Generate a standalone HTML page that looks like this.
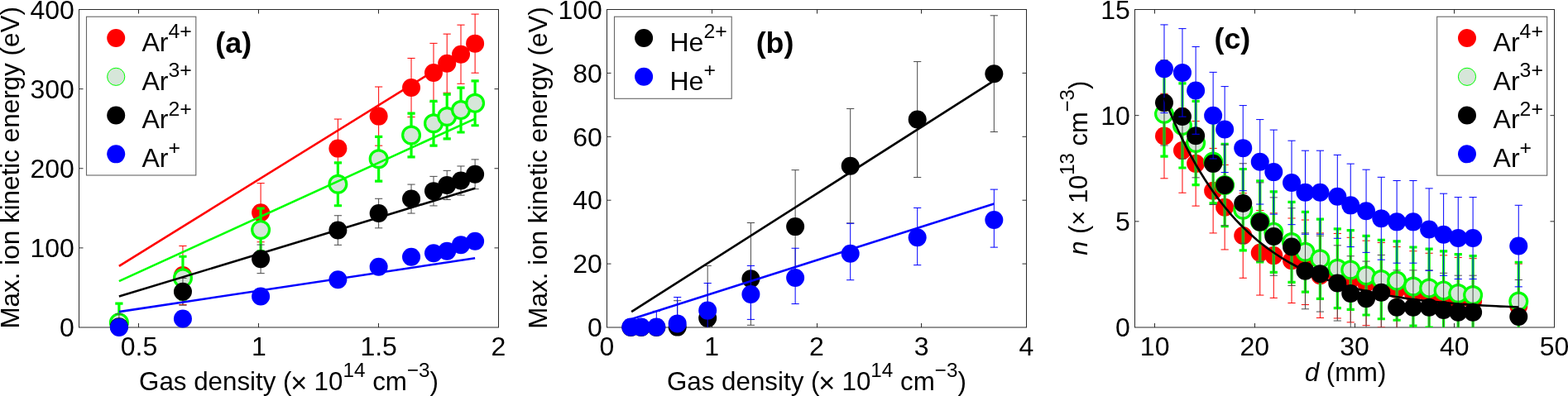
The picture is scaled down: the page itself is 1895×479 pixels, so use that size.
<!DOCTYPE html>
<html><head><meta charset="utf-8"><title>Figure</title>
<style>html,body{margin:0;padding:0;background:#fff;overflow:hidden}svg{display:block}</style>
</head><body>
<svg width="1895" height="479" viewBox="0 0 1895 479" font-family='"Liberation Sans", Arial, Helvetica, sans-serif' fill="#000">
<defs><clipPath id="clipA"><rect x="95.5" y="11.5" width="507" height="384.5"/></clipPath><clipPath id="clipB"><rect x="733.5" y="11.5" width="507" height="384.5"/></clipPath><clipPath id="clipC"><rect x="1371.5" y="11.5" width="507" height="384.5"/></clipPath></defs>
<rect width="100%" height="100%" fill="#fff"/>
<rect x="95.5" y="11.5" width="507" height="384.5" fill="none" stroke="#2b2b2b" stroke-width="1"/>
<path d="M167.5 396v-5M167.5 11.5v5M312.5 396v-5M312.5 11.5v5M457.5 396v-5M457.5 11.5v5M95.5 299.88h5M602.5 299.88h-5M95.5 203.75h5M602.5 203.75h-5M95.5 107.62h5M602.5 107.62h-5" stroke="#2b2b2b" stroke-width="1" fill="none"/>
<path d="M220.95 368.6V297.47M216.35 368.6h9.2M216.35 297.47h9.2" stroke="#ff0000" stroke-width="1.0" fill="none" clip-path="url(#clipA)"/>
<circle cx="220.95" cy="333.04" r="11" fill="#ff0000"/>
<path d="M315.1 292.76V221.63M310.5 292.76h9.2M310.5 221.63h9.2" stroke="#ff0000" stroke-width="1.0" fill="none" clip-path="url(#clipA)"/>
<circle cx="315.1" cy="257.2" r="11" fill="#ff0000"/>
<path d="M408.39 215.19V144.06M403.79 215.19h9.2M403.79 144.06h9.2" stroke="#ff0000" stroke-width="1.0" fill="none" clip-path="url(#clipA)"/>
<circle cx="408.39" cy="179.62" r="11" fill="#ff0000"/>
<path d="M457.64 176.16V105.03M453.04 176.16h9.2M453.04 105.03h9.2" stroke="#ff0000" stroke-width="1.0" fill="none" clip-path="url(#clipA)"/>
<circle cx="457.64" cy="140.6" r="11" fill="#ff0000"/>
<path d="M497.04 141.56V70.42M492.44 141.56h9.2M492.44 70.42h9.2" stroke="#ff0000" stroke-width="1.0" fill="none" clip-path="url(#clipA)"/>
<circle cx="497.04" cy="105.99" r="11" fill="#ff0000"/>
<path d="M523.99 123.49V52.35M519.39 123.49h9.2M519.39 52.35h9.2" stroke="#ff0000" stroke-width="1.0" fill="none" clip-path="url(#clipA)"/>
<circle cx="523.99" cy="87.92" r="11" fill="#ff0000"/>
<path d="M540.21 112.24V41.11M535.61 112.24h9.2M535.61 41.11h9.2" stroke="#ff0000" stroke-width="1.0" fill="none" clip-path="url(#clipA)"/>
<circle cx="540.21" cy="76.67" r="11" fill="#ff0000"/>
<path d="M557.01 101.28V30.15M552.41 101.28h9.2M552.41 30.15h9.2" stroke="#ff0000" stroke-width="1.0" fill="none" clip-path="url(#clipA)"/>
<circle cx="557.01" cy="65.71" r="11" fill="#ff0000"/>
<path d="M574.11 88.21V17.08M569.51 88.21h9.2M569.51 17.08h9.2" stroke="#ff0000" stroke-width="1.0" fill="none" clip-path="url(#clipA)"/>
<circle cx="574.11" cy="52.64" r="11" fill="#ff0000"/>
<path d="M143.88 413.21V367.07M139.28 413.21h9.2M139.28 367.07h9.2" stroke="#00ff00" stroke-width="3.2" fill="none" clip-path="url(#clipA)"/>
<circle cx="143.88" cy="390.14" r="10.4" fill="#d6e6d9" stroke="#00ff00" stroke-width="3.2"/>
<path d="M220.95 362.16V310.26M216.35 362.16h9.2M216.35 310.26h9.2" stroke="#00ff00" stroke-width="3.2" fill="none" clip-path="url(#clipA)"/>
<circle cx="220.95" cy="336.21" r="10.4" fill="#d6e6d9" stroke="#00ff00" stroke-width="3.2"/>
<path d="M315.1 303.91V252M310.5 303.91h9.2M310.5 252h9.2" stroke="#00ff00" stroke-width="3.2" fill="none" clip-path="url(#clipA)"/>
<circle cx="315.1" cy="277.96" r="10.4" fill="#d6e6d9" stroke="#00ff00" stroke-width="3.2"/>
<path d="M408.39 248.74V196.83M403.79 248.74h9.2M403.79 196.83h9.2" stroke="#00ff00" stroke-width="3.2" fill="none" clip-path="url(#clipA)"/>
<circle cx="408.39" cy="222.78" r="10.4" fill="#d6e6d9" stroke="#00ff00" stroke-width="3.2"/>
<path d="M457.64 219.13V165.3M453.04 219.13h9.2M453.04 165.3h9.2" stroke="#00ff00" stroke-width="3.2" fill="none" clip-path="url(#clipA)"/>
<circle cx="457.64" cy="192.22" r="10.4" fill="#d6e6d9" stroke="#00ff00" stroke-width="3.2"/>
<path d="M497.04 189.91V137.04M492.44 189.91h9.2M492.44 137.04h9.2" stroke="#00ff00" stroke-width="3.2" fill="none" clip-path="url(#clipA)"/>
<circle cx="497.04" cy="163.47" r="10.4" fill="#d6e6d9" stroke="#00ff00" stroke-width="3.2"/>
<path d="M523.99 176.16V122.33M519.39 176.16h9.2M519.39 122.33h9.2" stroke="#00ff00" stroke-width="3.2" fill="none" clip-path="url(#clipA)"/>
<circle cx="523.99" cy="149.25" r="10.4" fill="#d6e6d9" stroke="#00ff00" stroke-width="3.2"/>
<path d="M540.21 167.9V114.07M535.61 167.9h9.2M535.61 114.07h9.2" stroke="#00ff00" stroke-width="3.2" fill="none" clip-path="url(#clipA)"/>
<circle cx="540.21" cy="140.98" r="10.4" fill="#d6e6d9" stroke="#00ff00" stroke-width="3.2"/>
<path d="M557.01 160.01V106.18M552.41 160.01h9.2M552.41 106.18h9.2" stroke="#00ff00" stroke-width="3.2" fill="none" clip-path="url(#clipA)"/>
<circle cx="557.01" cy="133.1" r="10.4" fill="#d6e6d9" stroke="#00ff00" stroke-width="3.2"/>
<path d="M574.11 151.75V97.92M569.51 151.75h9.2M569.51 97.92h9.2" stroke="#00ff00" stroke-width="3.2" fill="none" clip-path="url(#clipA)"/>
<circle cx="574.11" cy="124.83" r="10.4" fill="#d6e6d9" stroke="#00ff00" stroke-width="3.2"/>
<path d="M143.88 410.51V379.75M139.28 410.51h9.2M139.28 379.75h9.2" stroke="#4a4a4a" stroke-width="1.0" fill="none" clip-path="url(#clipA)"/>
<circle cx="143.88" cy="395.13" r="11" fill="#000000"/>
<path d="M220.95 369.18V336.5M216.35 369.18h9.2M216.35 336.5h9.2" stroke="#4a4a4a" stroke-width="1.0" fill="none" clip-path="url(#clipA)"/>
<circle cx="220.95" cy="352.84" r="11" fill="#000000"/>
<path d="M315.1 330.63V296.03M310.5 330.63h9.2M310.5 296.03h9.2" stroke="#4a4a4a" stroke-width="1.0" fill="none" clip-path="url(#clipA)"/>
<circle cx="315.1" cy="313.33" r="11" fill="#000000"/>
<path d="M408.39 296.32V260.75M403.79 296.32h9.2M403.79 260.75h9.2" stroke="#4a4a4a" stroke-width="1.0" fill="none" clip-path="url(#clipA)"/>
<circle cx="408.39" cy="278.54" r="11" fill="#000000"/>
<path d="M457.64 275.84V240.28M453.04 275.84h9.2M453.04 240.28h9.2" stroke="#4a4a4a" stroke-width="1.0" fill="none" clip-path="url(#clipA)"/>
<circle cx="457.64" cy="258.06" r="11" fill="#000000"/>
<path d="M497.04 258.06V223.07M492.44 258.06h9.2M492.44 223.07h9.2" stroke="#4a4a4a" stroke-width="1.0" fill="none" clip-path="url(#clipA)"/>
<circle cx="497.04" cy="240.57" r="11" fill="#000000"/>
<path d="M523.99 248.93V213.36M519.39 248.93h9.2M519.39 213.36h9.2" stroke="#4a4a4a" stroke-width="1.0" fill="none" clip-path="url(#clipA)"/>
<circle cx="523.99" cy="231.15" r="11" fill="#000000"/>
<path d="M540.21 241.53V206.35M535.61 241.53h9.2M535.61 206.35h9.2" stroke="#4a4a4a" stroke-width="1.0" fill="none" clip-path="url(#clipA)"/>
<circle cx="540.21" cy="223.94" r="11" fill="#000000"/>
<path d="M557.01 236.14V200.96M552.41 236.14h9.2M552.41 200.96h9.2" stroke="#4a4a4a" stroke-width="1.0" fill="none" clip-path="url(#clipA)"/>
<circle cx="557.01" cy="218.55" r="11" fill="#000000"/>
<path d="M574.11 228.65V192.89M569.51 228.65h9.2M569.51 192.89h9.2" stroke="#4a4a4a" stroke-width="1.0" fill="none" clip-path="url(#clipA)"/>
<circle cx="574.11" cy="210.77" r="11" fill="#000000"/>
<circle cx="143.88" cy="396" r="11" fill="#0000ff"/>
<circle cx="220.95" cy="385.43" r="11" fill="#0000ff"/>
<circle cx="315.1" cy="358.42" r="11" fill="#0000ff"/>
<circle cx="408.39" cy="338.32" r="11" fill="#0000ff"/>
<circle cx="457.64" cy="322.66" r="11" fill="#0000ff"/>
<circle cx="497.04" cy="310.74" r="11" fill="#0000ff"/>
<circle cx="523.99" cy="306.32" r="11" fill="#0000ff"/>
<circle cx="540.21" cy="303.72" r="11" fill="#0000ff"/>
<circle cx="557.01" cy="296.13" r="11" fill="#0000ff"/>
<circle cx="574.11" cy="291.7" r="11" fill="#0000ff"/>
<line x1="143.88" y1="321.89" x2="574.11" y2="54.95" stroke="#ff0000" stroke-width="2.6"/>
<line x1="143.88" y1="340.15" x2="574.11" y2="143.58" stroke="#00ff00" stroke-width="2.6"/>
<line x1="143.88" y1="358.61" x2="574.11" y2="227.69" stroke="#000000" stroke-width="2.6"/>
<line x1="143.88" y1="377.16" x2="574.11" y2="312.28" stroke="#0000ff" stroke-width="2.6"/>
<text x="167.93" y="429.8" text-anchor="middle" font-size="32">0.5</text>
<text x="312.79" y="429.8" text-anchor="middle" font-size="32">1</text>
<text x="457.64" y="429.8" text-anchor="middle" font-size="32">1.5</text>
<text x="602.5" y="429.8" text-anchor="middle" font-size="32">2</text>
<text x="89.9" y="407.2" text-anchor="end" font-size="32">0</text>
<text x="89.9" y="311.07" text-anchor="end" font-size="32">100</text>
<text x="89.9" y="214.95" text-anchor="end" font-size="32">200</text>
<text x="89.9" y="118.83" text-anchor="end" font-size="32">300</text>
<text x="89.9" y="22.7" text-anchor="end" font-size="32">400</text>
<rect x="104.5" y="20.2" width="132.3" height="191.8" fill="#fff" stroke="#666" stroke-width="1.1"/>
<circle cx="140.2" cy="46.05" r="11" fill="#ff0000"/>
<text x="171.5" y="61.85" font-size="32">Ar<tspan dy="-15.6" font-size="24.8">4+</tspan></text>
<circle cx="140.2" cy="92.82" r="10.6" fill="#d6e6d9" stroke="#00ff00" stroke-width="1"/>
<text x="171.5" y="108.62" font-size="32">Ar<tspan dy="-15.6" font-size="24.8">3+</tspan></text>
<circle cx="140.2" cy="139.59" r="11" fill="#000"/>
<text x="171.5" y="155.39" font-size="32">Ar<tspan dy="-15.6" font-size="24.8">2+</tspan></text>
<circle cx="140.2" cy="186.36" r="11" fill="#0000ff"/>
<text x="171.5" y="202.16" font-size="32">Ar<tspan dy="-15.6" font-size="24.8">+</tspan></text>
<rect x="733.5" y="11.5" width="507" height="384.5" fill="none" stroke="#2b2b2b" stroke-width="1"/>
<path d="M860.5 396v-5M860.5 11.5v5M987.5 396v-5M987.5 11.5v5M1113.5 396v-5M1113.5 11.5v5M733.5 319.1h5M1240.5 319.1h-5M733.5 242.2h5M1240.5 242.2h-5M733.5 165.3h5M1240.5 165.3h-5M733.5 88.4h5M1240.5 88.4h-5" stroke="#2b2b2b" stroke-width="1" fill="none"/>
<circle cx="762.4" cy="396" r="11" fill="#000000"/>
<circle cx="774.95" cy="396" r="11" fill="#000000"/>
<circle cx="793.33" cy="396" r="11" fill="#000000"/>
<path d="M818.68 427.53V363.7M814.08 427.53h9.2M814.08 363.7h9.2" stroke="#4a4a4a" stroke-width="1.0" fill="none" clip-path="url(#clipB)"/>
<circle cx="818.68" cy="395.62" r="11" fill="#000000"/>
<path d="M855.18 448.29V321.41M850.58 448.29h9.2M850.58 321.41h9.2" stroke="#4a4a4a" stroke-width="1.0" fill="none" clip-path="url(#clipB)"/>
<circle cx="855.18" cy="384.85" r="11" fill="#000000"/>
<path d="M907.4 393.31V269.5M902.8 393.31h9.2M902.8 269.5h9.2" stroke="#4a4a4a" stroke-width="1.0" fill="none" clip-path="url(#clipB)"/>
<circle cx="907.4" cy="337.17" r="11" fill="#000000"/>
<path d="M961.14 342.55V205.67M956.54 342.55h9.2M956.54 205.67h9.2" stroke="#4a4a4a" stroke-width="1.0" fill="none" clip-path="url(#clipB)"/>
<circle cx="961.14" cy="274.11" r="11" fill="#000000"/>
<path d="M1027.69 269.88V131.46M1023.09 269.88h9.2M1023.09 131.46h9.2" stroke="#4a4a4a" stroke-width="1.0" fill="none" clip-path="url(#clipB)"/>
<circle cx="1027.69" cy="200.67" r="11" fill="#000000"/>
<path d="M1108.68 214.52V74.56M1104.08 214.52h9.2M1104.08 74.56h9.2" stroke="#4a4a4a" stroke-width="1.0" fill="none" clip-path="url(#clipB)"/>
<circle cx="1108.68" cy="144.54" r="11" fill="#000000"/>
<path d="M1201.33 159.53V18.81M1196.73 159.53h9.2M1196.73 18.81h9.2" stroke="#4a4a4a" stroke-width="1.0" fill="none" clip-path="url(#clipB)"/>
<circle cx="1201.33" cy="89.17" r="11" fill="#000000"/>
<circle cx="762.4" cy="395.62" r="11" fill="#0000ff"/>
<circle cx="774.95" cy="395.62" r="11" fill="#0000ff"/>
<path d="M793.33 414.84V376.39M788.73 414.84h9.2M788.73 376.39h9.2" stroke="#0000ff" stroke-width="1.0" fill="none" clip-path="url(#clipB)"/>
<circle cx="793.33" cy="395.62" r="11" fill="#0000ff"/>
<path d="M818.68 423.3V359.47M814.08 423.3h9.2M814.08 359.47h9.2" stroke="#0000ff" stroke-width="1.0" fill="none" clip-path="url(#clipB)"/>
<circle cx="818.68" cy="391.39" r="11" fill="#0000ff"/>
<path d="M855.18 408.69V342.55M850.58 408.69h9.2M850.58 342.55h9.2" stroke="#0000ff" stroke-width="1.0" fill="none" clip-path="url(#clipB)"/>
<circle cx="855.18" cy="375.62" r="11" fill="#0000ff"/>
<path d="M907.4 386.39V321.41M902.8 386.39h9.2M902.8 321.41h9.2" stroke="#0000ff" stroke-width="1.0" fill="none" clip-path="url(#clipB)"/>
<circle cx="907.4" cy="356.01" r="11" fill="#0000ff"/>
<path d="M961.14 367.55V300.26M956.54 367.55h9.2M956.54 300.26h9.2" stroke="#0000ff" stroke-width="1.0" fill="none" clip-path="url(#clipB)"/>
<circle cx="961.14" cy="336.02" r="11" fill="#0000ff"/>
<path d="M1027.69 338.71V270.27M1023.09 338.71h9.2M1023.09 270.27h9.2" stroke="#0000ff" stroke-width="1.0" fill="none" clip-path="url(#clipB)"/>
<circle cx="1027.69" cy="306.8" r="11" fill="#0000ff"/>
<path d="M1108.68 320.64V251.43M1104.08 320.64h9.2M1104.08 251.43h9.2" stroke="#0000ff" stroke-width="1.0" fill="none" clip-path="url(#clipB)"/>
<circle cx="1108.68" cy="287.19" r="11" fill="#0000ff"/>
<path d="M1201.33 299.11V229.13M1196.73 299.11h9.2M1196.73 229.13h9.2" stroke="#0000ff" stroke-width="1.0" fill="none" clip-path="url(#clipB)"/>
<circle cx="1201.33" cy="266.04" r="11" fill="#0000ff"/>
<line x1="763.16" y1="377.16" x2="1201.33" y2="97.63" stroke="#000000" stroke-width="2.6"/>
<line x1="763.16" y1="386" x2="1201.33" y2="246.43" stroke="#0000ff" stroke-width="2.6"/>
<text x="733.5" y="429.8" text-anchor="middle" font-size="32">0</text>
<text x="860.25" y="429.8" text-anchor="middle" font-size="32">1</text>
<text x="987" y="429.8" text-anchor="middle" font-size="32">2</text>
<text x="1113.75" y="429.8" text-anchor="middle" font-size="32">3</text>
<text x="1240.5" y="429.8" text-anchor="middle" font-size="32">4</text>
<text x="727.9" y="407.2" text-anchor="end" font-size="32">0</text>
<text x="727.9" y="330.3" text-anchor="end" font-size="32">20</text>
<text x="727.9" y="253.4" text-anchor="end" font-size="32">40</text>
<text x="727.9" y="176.5" text-anchor="end" font-size="32">60</text>
<text x="727.9" y="99.6" text-anchor="end" font-size="32">80</text>
<text x="727.9" y="22.7" text-anchor="end" font-size="32">100</text>
<rect x="742.5" y="20.2" width="141.7" height="99.1" fill="#fff" stroke="#666" stroke-width="1.1"/>
<circle cx="778.1" cy="46.05" r="11" fill="#000"/>
<text x="809.5" y="61.85" font-size="32">He<tspan dy="-15.6" font-size="24.8">2+</tspan></text>
<circle cx="778.1" cy="92.82" r="11" fill="#0000ff"/>
<text x="809.5" y="108.62" font-size="32">He<tspan dy="-15.6" font-size="24.8">+</tspan></text>
<rect x="1371.5" y="11.5" width="507" height="384.5" fill="none" stroke="#2b2b2b" stroke-width="1"/>
<path d="M1395.5 396v-5M1395.5 11.5v5M1516.5 396v-5M1516.5 11.5v5M1637.5 396v-5M1637.5 11.5v5M1757.5 396v-5M1757.5 11.5v5M1371.5 267.83h5M1878.5 267.83h-5M1371.5 139.67h5M1878.5 139.67h-5" stroke="#2b2b2b" stroke-width="1" fill="none"/>
<path d="M1406.99 215.8V113.26M1402.39 215.8h9.2M1402.39 113.26h9.2" stroke="#ff0000" stroke-width="1.0" fill="none" clip-path="url(#clipC)"/>
<circle cx="1406.99" cy="164.53" r="11" fill="#ff0000"/>
<path d="M1428.96 233.23V130.69M1424.36 233.23h9.2M1424.36 130.69h9.2" stroke="#ff0000" stroke-width="1.0" fill="none" clip-path="url(#clipC)"/>
<circle cx="1428.96" cy="181.96" r="11" fill="#ff0000"/>
<path d="M1445.14 249.12V146.59M1440.54 249.12h9.2M1440.54 146.59h9.2" stroke="#ff0000" stroke-width="1.0" fill="none" clip-path="url(#clipC)"/>
<circle cx="1445.14" cy="197.85" r="11" fill="#ff0000"/>
<path d="M1466.14 281.93V179.4M1461.54 281.93h9.2M1461.54 179.4h9.2" stroke="#ff0000" stroke-width="1.0" fill="none" clip-path="url(#clipC)"/>
<circle cx="1466.14" cy="230.66" r="11" fill="#ff0000"/>
<path d="M1480.14 301.93V199.39M1475.54 301.93h9.2M1475.54 199.39h9.2" stroke="#ff0000" stroke-width="1.0" fill="none" clip-path="url(#clipC)"/>
<circle cx="1480.14" cy="250.66" r="11" fill="#ff0000"/>
<path d="M1502.23 336.27V233.74M1497.63 336.27h9.2M1497.63 233.74h9.2" stroke="#ff0000" stroke-width="1.0" fill="none" clip-path="url(#clipC)"/>
<circle cx="1502.23" cy="285.01" r="11" fill="#ff0000"/>
<path d="M1522.76 357.04V254.5M1518.16 357.04h9.2M1518.16 254.5h9.2" stroke="#ff0000" stroke-width="1.0" fill="none" clip-path="url(#clipC)"/>
<circle cx="1522.76" cy="305.77" r="11" fill="#ff0000"/>
<path d="M1539.29 360.37V257.84M1534.69 360.37h9.2M1534.69 257.84h9.2" stroke="#ff0000" stroke-width="1.0" fill="none" clip-path="url(#clipC)"/>
<circle cx="1539.29" cy="309.1" r="11" fill="#ff0000"/>
<path d="M1561.02 366.52V263.99M1556.42 366.52h9.2M1556.42 263.99h9.2" stroke="#ff0000" stroke-width="1.0" fill="none" clip-path="url(#clipC)"/>
<circle cx="1561.02" cy="315.25" r="11" fill="#ff0000"/>
<path d="M1577.44 368.57V266.04M1572.84 368.57h9.2M1572.84 266.04h9.2" stroke="#ff0000" stroke-width="1.0" fill="none" clip-path="url(#clipC)"/>
<circle cx="1577.44" cy="317.31" r="11" fill="#ff0000"/>
<path d="M1595.42 384.46V281.93M1590.83 384.46h9.2M1590.83 281.93h9.2" stroke="#ff0000" stroke-width="1.0" fill="none" clip-path="url(#clipC)"/>
<circle cx="1595.42" cy="333.2" r="11" fill="#ff0000"/>
<path d="M1616.31 384.98V282.44M1611.71 384.98h9.2M1611.71 282.44h9.2" stroke="#ff0000" stroke-width="1.0" fill="none" clip-path="url(#clipC)"/>
<circle cx="1616.31" cy="333.71" r="11" fill="#ff0000"/>
<path d="M1632.24 389.85V287.31M1627.64 389.85h9.2M1627.64 287.31h9.2" stroke="#ff0000" stroke-width="1.0" fill="none" clip-path="url(#clipC)"/>
<circle cx="1632.24" cy="338.58" r="11" fill="#ff0000"/>
<path d="M1651.07 393.69V291.16M1646.47 393.69h9.2M1646.47 291.16h9.2" stroke="#ff0000" stroke-width="1.0" fill="none" clip-path="url(#clipC)"/>
<circle cx="1651.07" cy="342.43" r="11" fill="#ff0000"/>
<path d="M1669.3 396V293.47M1664.7 396h9.2M1664.7 293.47h9.2" stroke="#ff0000" stroke-width="1.0" fill="none" clip-path="url(#clipC)"/>
<circle cx="1669.3" cy="344.73" r="11" fill="#ff0000"/>
<path d="M1688.13 401.13V298.59M1683.53 401.13h9.2M1683.53 298.59h9.2" stroke="#ff0000" stroke-width="1.0" fill="none" clip-path="url(#clipC)"/>
<circle cx="1688.13" cy="349.86" r="11" fill="#ff0000"/>
<path d="M1707.93 406.25V303.72M1703.33 406.25h9.2M1703.33 303.72h9.2" stroke="#ff0000" stroke-width="1.0" fill="none" clip-path="url(#clipC)"/>
<circle cx="1707.93" cy="354.99" r="11" fill="#ff0000"/>
<path d="M1727.12 408.82V306.28M1722.52 408.82h9.2M1722.52 306.28h9.2" stroke="#ff0000" stroke-width="1.0" fill="none" clip-path="url(#clipC)"/>
<circle cx="1727.12" cy="357.55" r="11" fill="#ff0000"/>
<path d="M1744.63 411.38V308.85M1740.03 411.38h9.2M1740.03 308.85h9.2" stroke="#ff0000" stroke-width="1.0" fill="none" clip-path="url(#clipC)"/>
<circle cx="1744.63" cy="360.11" r="11" fill="#ff0000"/>
<path d="M1762.25 413.94V311.41M1757.65 413.94h9.2M1757.65 311.41h9.2" stroke="#ff0000" stroke-width="1.0" fill="none" clip-path="url(#clipC)"/>
<circle cx="1762.25" cy="362.68" r="11" fill="#ff0000"/>
<path d="M1780.12 415.23V312.69M1775.52 415.23h9.2M1775.52 312.69h9.2" stroke="#ff0000" stroke-width="1.0" fill="none" clip-path="url(#clipC)"/>
<circle cx="1780.12" cy="363.96" r="11" fill="#ff0000"/>
<path d="M1835.28 421.63V319.1M1830.68 421.63h9.2M1830.68 319.1h9.2" stroke="#ff0000" stroke-width="1.0" fill="none" clip-path="url(#clipC)"/>
<circle cx="1835.28" cy="370.37" r="11" fill="#ff0000"/>
<path d="M1406.99 189.17V86.57M1402.39 189.17h9.2M1402.39 86.57h9.2" stroke="#00ff00" stroke-width="3.2" fill="none" clip-path="url(#clipC)"/>
<circle cx="1406.99" cy="137.87" r="10.4" fill="#d6e6d9" stroke="#00ff00" stroke-width="3.2"/>
<path d="M1428.96 203.02V100.93M1424.36 203.02h9.2M1424.36 100.93h9.2" stroke="#00ff00" stroke-width="3.2" fill="none" clip-path="url(#clipC)"/>
<circle cx="1428.96" cy="151.97" r="10.4" fill="#d6e6d9" stroke="#00ff00" stroke-width="3.2"/>
<path d="M1445.14 223.66V122.32M1440.54 223.66h9.2M1440.54 122.32h9.2" stroke="#00ff00" stroke-width="3.2" fill="none" clip-path="url(#clipC)"/>
<circle cx="1445.14" cy="172.99" r="10.4" fill="#d6e6d9" stroke="#00ff00" stroke-width="3.2"/>
<path d="M1466.14 245.81V145.29M1461.54 245.81h9.2M1461.54 145.29h9.2" stroke="#00ff00" stroke-width="3.2" fill="none" clip-path="url(#clipC)"/>
<circle cx="1466.14" cy="195.55" r="10.4" fill="#d6e6d9" stroke="#00ff00" stroke-width="3.2"/>
<path d="M1480.14 273.75V174.25M1475.54 273.75h9.2M1475.54 174.25h9.2" stroke="#00ff00" stroke-width="3.2" fill="none" clip-path="url(#clipC)"/>
<circle cx="1480.14" cy="224" r="10.4" fill="#d6e6d9" stroke="#00ff00" stroke-width="3.2"/>
<path d="M1502.23 302.95V204.52M1497.63 302.95h9.2M1497.63 204.52h9.2" stroke="#00ff00" stroke-width="3.2" fill="none" clip-path="url(#clipC)"/>
<circle cx="1502.23" cy="253.74" r="10.4" fill="#d6e6d9" stroke="#00ff00" stroke-width="3.2"/>
<path d="M1522.76 316.79V218.87M1518.16 316.79h9.2M1518.16 218.87h9.2" stroke="#00ff00" stroke-width="3.2" fill="none" clip-path="url(#clipC)"/>
<circle cx="1522.76" cy="267.83" r="10.4" fill="#d6e6d9" stroke="#00ff00" stroke-width="3.2"/>
<path d="M1539.29 329.38V231.92M1534.69 329.38h9.2M1534.69 231.92h9.2" stroke="#00ff00" stroke-width="3.2" fill="none" clip-path="url(#clipC)"/>
<circle cx="1539.29" cy="280.65" r="10.4" fill="#d6e6d9" stroke="#00ff00" stroke-width="3.2"/>
<path d="M1561.02 341.46V244.45M1556.42 341.46h9.2M1556.42 244.45h9.2" stroke="#00ff00" stroke-width="3.2" fill="none" clip-path="url(#clipC)"/>
<circle cx="1561.02" cy="292.95" r="10.4" fill="#d6e6d9" stroke="#00ff00" stroke-width="3.2"/>
<path d="M1577.44 353.04V256.45M1572.84 353.04h9.2M1572.84 256.45h9.2" stroke="#00ff00" stroke-width="3.2" fill="none" clip-path="url(#clipC)"/>
<circle cx="1577.44" cy="304.75" r="10.4" fill="#d6e6d9" stroke="#00ff00" stroke-width="3.2"/>
<path d="M1595.42 361.35V265.06M1590.83 361.35h9.2M1590.83 265.06h9.2" stroke="#00ff00" stroke-width="3.2" fill="none" clip-path="url(#clipC)"/>
<circle cx="1595.42" cy="313.2" r="10.4" fill="#d6e6d9" stroke="#00ff00" stroke-width="3.2"/>
<path d="M1616.31 372.67V276.8M1611.71 372.67h9.2M1611.71 276.8h9.2" stroke="#00ff00" stroke-width="3.2" fill="none" clip-path="url(#clipC)"/>
<circle cx="1616.31" cy="324.74" r="10.4" fill="#d6e6d9" stroke="#00ff00" stroke-width="3.2"/>
<path d="M1632.24 374.44V278.63M1627.64 374.44h9.2M1627.64 278.63h9.2" stroke="#00ff00" stroke-width="3.2" fill="none" clip-path="url(#clipC)"/>
<circle cx="1632.24" cy="326.53" r="10.4" fill="#d6e6d9" stroke="#00ff00" stroke-width="3.2"/>
<path d="M1651.07 380.98V285.42M1646.47 380.98h9.2M1646.47 285.42h9.2" stroke="#00ff00" stroke-width="3.2" fill="none" clip-path="url(#clipC)"/>
<circle cx="1651.07" cy="333.2" r="10.4" fill="#d6e6d9" stroke="#00ff00" stroke-width="3.2"/>
<path d="M1669.3 385.76V290.37M1664.7 385.76h9.2M1664.7 290.37h9.2" stroke="#00ff00" stroke-width="3.2" fill="none" clip-path="url(#clipC)"/>
<circle cx="1669.3" cy="338.07" r="10.4" fill="#d6e6d9" stroke="#00ff00" stroke-width="3.2"/>
<path d="M1688.13 387.27V291.94M1683.53 387.27h9.2M1683.53 291.94h9.2" stroke="#00ff00" stroke-width="3.2" fill="none" clip-path="url(#clipC)"/>
<circle cx="1688.13" cy="339.61" r="10.4" fill="#d6e6d9" stroke="#00ff00" stroke-width="3.2"/>
<path d="M1707.93 394.07V298.98M1703.33 394.07h9.2M1703.33 298.98h9.2" stroke="#00ff00" stroke-width="3.2" fill="none" clip-path="url(#clipC)"/>
<circle cx="1707.93" cy="346.53" r="10.4" fill="#d6e6d9" stroke="#00ff00" stroke-width="3.2"/>
<path d="M1727.12 396.08V301.07M1722.52 396.08h9.2M1722.52 301.07h9.2" stroke="#00ff00" stroke-width="3.2" fill="none" clip-path="url(#clipC)"/>
<circle cx="1727.12" cy="348.58" r="10.4" fill="#d6e6d9" stroke="#00ff00" stroke-width="3.2"/>
<path d="M1744.63 398.85V303.94M1740.03 398.85h9.2M1740.03 303.94h9.2" stroke="#00ff00" stroke-width="3.2" fill="none" clip-path="url(#clipC)"/>
<circle cx="1744.63" cy="351.4" r="10.4" fill="#d6e6d9" stroke="#00ff00" stroke-width="3.2"/>
<path d="M1762.25 402.38V307.6M1757.65 402.38h9.2M1757.65 307.6h9.2" stroke="#00ff00" stroke-width="3.2" fill="none" clip-path="url(#clipC)"/>
<circle cx="1762.25" cy="354.99" r="10.4" fill="#d6e6d9" stroke="#00ff00" stroke-width="3.2"/>
<path d="M1780.12 404.39V309.68M1775.52 404.39h9.2M1775.52 309.68h9.2" stroke="#00ff00" stroke-width="3.2" fill="none" clip-path="url(#clipC)"/>
<circle cx="1780.12" cy="357.04" r="10.4" fill="#d6e6d9" stroke="#00ff00" stroke-width="3.2"/>
<path d="M1835.28 411.69V317.25M1830.68 411.69h9.2M1830.68 317.25h9.2" stroke="#00ff00" stroke-width="3.2" fill="none" clip-path="url(#clipC)"/>
<circle cx="1835.28" cy="364.47" r="10.4" fill="#d6e6d9" stroke="#00ff00" stroke-width="3.2"/>
<path d="M1406.99 175.98V72.59M1402.39 175.98h9.2M1402.39 72.59h9.2" stroke="#4a4a4a" stroke-width="1.0" fill="none" clip-path="url(#clipC)"/>
<circle cx="1406.99" cy="124.29" r="11" fill="#000000"/>
<path d="M1428.96 192.18V89.72M1424.36 192.18h9.2M1424.36 89.72h9.2" stroke="#4a4a4a" stroke-width="1.0" fill="none" clip-path="url(#clipC)"/>
<circle cx="1428.96" cy="140.95" r="11" fill="#000000"/>
<path d="M1445.14 214.85V113.7M1440.54 214.85h9.2M1440.54 113.7h9.2" stroke="#4a4a4a" stroke-width="1.0" fill="none" clip-path="url(#clipC)"/>
<circle cx="1445.14" cy="164.27" r="11" fill="#000000"/>
<path d="M1466.14 247.49V148.22M1461.54 247.49h9.2M1461.54 148.22h9.2" stroke="#4a4a4a" stroke-width="1.0" fill="none" clip-path="url(#clipC)"/>
<circle cx="1466.14" cy="197.85" r="11" fill="#000000"/>
<path d="M1480.14 272.91V175.1M1475.54 272.91h9.2M1475.54 175.1h9.2" stroke="#4a4a4a" stroke-width="1.0" fill="none" clip-path="url(#clipC)"/>
<circle cx="1480.14" cy="224" r="11" fill="#000000"/>
<path d="M1502.23 294.33V197.76M1497.63 294.33h9.2M1497.63 197.76h9.2" stroke="#4a4a4a" stroke-width="1.0" fill="none" clip-path="url(#clipC)"/>
<circle cx="1502.23" cy="246.05" r="11" fill="#000000"/>
<path d="M1522.76 316.26V220.95M1518.16 316.26h9.2M1518.16 220.95h9.2" stroke="#4a4a4a" stroke-width="1.0" fill="none" clip-path="url(#clipC)"/>
<circle cx="1522.76" cy="268.6" r="11" fill="#000000"/>
<path d="M1539.29 333.2V238.86M1534.69 333.2h9.2M1534.69 238.86h9.2" stroke="#4a4a4a" stroke-width="1.0" fill="none" clip-path="url(#clipC)"/>
<circle cx="1539.29" cy="286.03" r="11" fill="#000000"/>
<path d="M1561.02 345.41V251.78M1556.42 345.41h9.2M1556.42 251.78h9.2" stroke="#4a4a4a" stroke-width="1.0" fill="none" clip-path="url(#clipC)"/>
<circle cx="1561.02" cy="298.59" r="11" fill="#000000"/>
<path d="M1577.44 373.81V281.82M1572.84 373.81h9.2M1572.84 281.82h9.2" stroke="#4a4a4a" stroke-width="1.0" fill="none" clip-path="url(#clipC)"/>
<circle cx="1577.44" cy="327.82" r="11" fill="#000000"/>
<path d="M1595.42 377.05V285.24M1590.83 377.05h9.2M1590.83 285.24h9.2" stroke="#4a4a4a" stroke-width="1.0" fill="none" clip-path="url(#clipC)"/>
<circle cx="1595.42" cy="331.15" r="11" fill="#000000"/>
<path d="M1616.31 388.02V296.84M1611.71 388.02h9.2M1611.71 296.84h9.2" stroke="#4a4a4a" stroke-width="1.0" fill="none" clip-path="url(#clipC)"/>
<circle cx="1616.31" cy="342.43" r="11" fill="#000000"/>
<path d="M1632.24 400.22V309.75M1627.64 400.22h9.2M1627.64 309.75h9.2" stroke="#4a4a4a" stroke-width="1.0" fill="none" clip-path="url(#clipC)"/>
<circle cx="1632.24" cy="354.99" r="11" fill="#000000"/>
<path d="M1651.07 406.2V316.07M1646.47 406.2h9.2M1646.47 316.07h9.2" stroke="#4a4a4a" stroke-width="1.0" fill="none" clip-path="url(#clipC)"/>
<circle cx="1651.07" cy="361.14" r="11" fill="#000000"/>
<path d="M1669.3 398.98V308.43M1664.7 398.98h9.2M1664.7 308.43h9.2" stroke="#4a4a4a" stroke-width="1.0" fill="none" clip-path="url(#clipC)"/>
<circle cx="1669.3" cy="353.7" r="11" fill="#000000"/>
<path d="M1688.13 416.42V326.88M1683.53 416.42h9.2M1683.53 326.88h9.2" stroke="#4a4a4a" stroke-width="1.0" fill="none" clip-path="url(#clipC)"/>
<circle cx="1688.13" cy="371.65" r="11" fill="#000000"/>
<path d="M1707.93 416.42V326.88M1703.33 416.42h9.2M1703.33 326.88h9.2" stroke="#4a4a4a" stroke-width="1.0" fill="none" clip-path="url(#clipC)"/>
<circle cx="1707.93" cy="371.65" r="11" fill="#000000"/>
<path d="M1727.12 416.42V326.88M1722.52 416.42h9.2M1722.52 326.88h9.2" stroke="#4a4a4a" stroke-width="1.0" fill="none" clip-path="url(#clipC)"/>
<circle cx="1727.12" cy="371.65" r="11" fill="#000000"/>
<path d="M1744.63 419.66V330.3M1740.03 419.66h9.2M1740.03 330.3h9.2" stroke="#4a4a4a" stroke-width="1.0" fill="none" clip-path="url(#clipC)"/>
<circle cx="1744.63" cy="374.98" r="11" fill="#000000"/>
<path d="M1762.25 422.4V333.2M1757.65 422.4h9.2M1757.65 333.2h9.2" stroke="#4a4a4a" stroke-width="1.0" fill="none" clip-path="url(#clipC)"/>
<circle cx="1762.25" cy="377.8" r="11" fill="#000000"/>
<path d="M1780.12 422.4V333.2M1775.52 422.4h9.2M1775.52 333.2h9.2" stroke="#4a4a4a" stroke-width="1.0" fill="none" clip-path="url(#clipC)"/>
<circle cx="1780.12" cy="377.8" r="11" fill="#000000"/>
<path d="M1835.28 427.38V338.47M1830.68 427.38h9.2M1830.68 338.47h9.2" stroke="#4a4a4a" stroke-width="1.0" fill="none" clip-path="url(#clipC)"/>
<circle cx="1835.28" cy="382.93" r="11" fill="#000000"/>
<path d="M1406.99 136.64V29.91M1402.39 136.64h9.2M1402.39 29.91h9.2" stroke="#0000ff" stroke-width="1.0" fill="none" clip-path="url(#clipC)"/>
<circle cx="1406.99" cy="83.27" r="11" fill="#0000ff"/>
<path d="M1428.96 141.16V34.61M1424.36 141.16h9.2M1424.36 34.61h9.2" stroke="#0000ff" stroke-width="1.0" fill="none" clip-path="url(#clipC)"/>
<circle cx="1428.96" cy="87.89" r="11" fill="#0000ff"/>
<path d="M1445.14 162.29V56.55M1440.54 162.29h9.2M1440.54 56.55h9.2" stroke="#0000ff" stroke-width="1.0" fill="none" clip-path="url(#clipC)"/>
<circle cx="1445.14" cy="109.42" r="11" fill="#0000ff"/>
<path d="M1466.14 191.96V87.37M1461.54 191.96h9.2M1461.54 87.37h9.2" stroke="#0000ff" stroke-width="1.0" fill="none" clip-path="url(#clipC)"/>
<circle cx="1466.14" cy="139.67" r="11" fill="#0000ff"/>
<path d="M1480.14 208.56V104.61M1475.54 208.56h9.2M1475.54 104.61h9.2" stroke="#0000ff" stroke-width="1.0" fill="none" clip-path="url(#clipC)"/>
<circle cx="1480.14" cy="156.58" r="11" fill="#0000ff"/>
<path d="M1502.23 230.68V127.6M1497.63 230.68h9.2M1497.63 127.6h9.2" stroke="#0000ff" stroke-width="1.0" fill="none" clip-path="url(#clipC)"/>
<circle cx="1502.23" cy="179.14" r="11" fill="#0000ff"/>
<path d="M1522.76 247.03V144.58M1518.16 247.03h9.2M1518.16 144.58h9.2" stroke="#0000ff" stroke-width="1.0" fill="none" clip-path="url(#clipC)"/>
<circle cx="1522.76" cy="195.8" r="11" fill="#0000ff"/>
<path d="M1539.29 259.1V157.12M1534.69 259.1h9.2M1534.69 157.12h9.2" stroke="#0000ff" stroke-width="1.0" fill="none" clip-path="url(#clipC)"/>
<circle cx="1539.29" cy="208.11" r="11" fill="#0000ff"/>
<path d="M1561.02 271.67V170.18M1556.42 271.67h9.2M1556.42 170.18h9.2" stroke="#0000ff" stroke-width="1.0" fill="none" clip-path="url(#clipC)"/>
<circle cx="1561.02" cy="220.92" r="11" fill="#0000ff"/>
<path d="M1577.44 283.24V182.19M1572.84 283.24h9.2M1572.84 182.19h9.2" stroke="#0000ff" stroke-width="1.0" fill="none" clip-path="url(#clipC)"/>
<circle cx="1577.44" cy="232.72" r="11" fill="#0000ff"/>
<path d="M1595.42 283.24V182.19M1590.83 283.24h9.2M1590.83 182.19h9.2" stroke="#0000ff" stroke-width="1.0" fill="none" clip-path="url(#clipC)"/>
<circle cx="1595.42" cy="232.72" r="11" fill="#0000ff"/>
<path d="M1616.31 288.27V187.42M1611.71 288.27h9.2M1611.71 187.42h9.2" stroke="#0000ff" stroke-width="1.0" fill="none" clip-path="url(#clipC)"/>
<circle cx="1616.31" cy="237.84" r="11" fill="#0000ff"/>
<path d="M1632.24 298.58V198.13M1627.64 298.58h9.2M1627.64 198.13h9.2" stroke="#0000ff" stroke-width="1.0" fill="none" clip-path="url(#clipC)"/>
<circle cx="1632.24" cy="248.35" r="11" fill="#0000ff"/>
<path d="M1651.07 305.37V205.18M1646.47 305.37h9.2M1646.47 205.18h9.2" stroke="#0000ff" stroke-width="1.0" fill="none" clip-path="url(#clipC)"/>
<circle cx="1651.07" cy="255.27" r="11" fill="#0000ff"/>
<path d="M1669.3 314.17V214.32M1664.7 314.17h9.2M1664.7 214.32h9.2" stroke="#0000ff" stroke-width="1.0" fill="none" clip-path="url(#clipC)"/>
<circle cx="1669.3" cy="264.24" r="11" fill="#0000ff"/>
<path d="M1688.13 318.19V218.5M1683.53 318.19h9.2M1683.53 218.5h9.2" stroke="#0000ff" stroke-width="1.0" fill="none" clip-path="url(#clipC)"/>
<circle cx="1688.13" cy="268.35" r="11" fill="#0000ff"/>
<path d="M1707.93 318.19V218.5M1703.33 318.19h9.2M1703.33 218.5h9.2" stroke="#0000ff" stroke-width="1.0" fill="none" clip-path="url(#clipC)"/>
<circle cx="1707.93" cy="268.35" r="11" fill="#0000ff"/>
<path d="M1727.12 327.25V227.9M1722.52 327.25h9.2M1722.52 227.9h9.2" stroke="#0000ff" stroke-width="1.0" fill="none" clip-path="url(#clipC)"/>
<circle cx="1727.12" cy="277.57" r="11" fill="#0000ff"/>
<path d="M1744.63 333.28V234.17M1740.03 333.28h9.2M1740.03 234.17h9.2" stroke="#0000ff" stroke-width="1.0" fill="none" clip-path="url(#clipC)"/>
<circle cx="1744.63" cy="283.73" r="11" fill="#0000ff"/>
<path d="M1762.25 337.56V238.61M1757.65 337.56h9.2M1757.65 238.61h9.2" stroke="#0000ff" stroke-width="1.0" fill="none" clip-path="url(#clipC)"/>
<circle cx="1762.25" cy="288.08" r="11" fill="#0000ff"/>
<path d="M1780.12 337.56V238.61M1775.52 337.56h9.2M1775.52 238.61h9.2" stroke="#0000ff" stroke-width="1.0" fill="none" clip-path="url(#clipC)"/>
<circle cx="1780.12" cy="288.08" r="11" fill="#0000ff"/>
<path d="M1835.28 346.86V248.28M1830.68 346.86h9.2M1830.68 248.28h9.2" stroke="#0000ff" stroke-width="1.0" fill="none" clip-path="url(#clipC)"/>
<circle cx="1835.28" cy="297.57" r="11" fill="#0000ff"/>
<polyline points="1406.99,118.36 1412.41,131.73 1417.83,144.41 1423.25,156.43 1428.68,167.82 1434.1,178.62 1439.52,188.85 1444.94,198.56 1450.36,207.75 1455.78,216.47 1461.2,224.74 1466.63,232.57 1472.05,240 1477.47,247.04 1482.89,253.72 1488.31,260.04 1493.73,266.04 1499.15,271.72 1504.58,277.11 1510,282.22 1515.42,287.06 1520.84,291.66 1526.26,296.01 1531.68,300.13 1537.1,304.04 1542.53,307.75 1547.95,311.26 1553.37,314.59 1558.79,317.75 1564.21,320.74 1569.63,323.58 1575.05,326.27 1580.48,328.82 1585.9,331.24 1591.32,333.53 1596.74,335.7 1602.16,337.76 1607.58,339.71 1613,341.56 1618.43,343.31 1623.85,344.97 1629.27,346.55 1634.69,348.04 1640.11,349.46 1645.53,350.8 1650.96,352.07 1656.38,353.28 1661.8,354.42 1667.22,355.5 1672.64,356.53 1678.06,357.51 1683.48,358.43 1688.91,359.3 1694.33,360.13 1699.75,360.92 1705.17,361.67 1710.59,362.37 1716.01,363.04 1721.43,363.68 1726.86,364.28 1732.28,364.85 1737.7,365.39 1743.12,365.9 1748.54,366.39 1753.96,366.85 1759.38,367.29 1764.81,367.7 1770.23,368.09 1775.65,368.46 1781.07,368.82 1786.49,369.15 1791.91,369.47 1797.33,369.77 1802.76,370.05 1808.18,370.32 1813.6,370.58 1819.02,370.82 1824.44,371.05 1829.86,371.27 1835.28,371.48" fill="none" stroke="#000" stroke-width="2.6"/>
<text x="1395.64" y="429.8" text-anchor="middle" font-size="32">10</text>
<text x="1516.36" y="429.8" text-anchor="middle" font-size="32">20</text>
<text x="1637.07" y="429.8" text-anchor="middle" font-size="32">30</text>
<text x="1757.79" y="429.8" text-anchor="middle" font-size="32">40</text>
<text x="1878.5" y="429.8" text-anchor="middle" font-size="32">50</text>
<text x="1365.9" y="407.2" text-anchor="end" font-size="32">0</text>
<text x="1365.9" y="279.03" text-anchor="end" font-size="32">5</text>
<text x="1365.9" y="150.87" text-anchor="end" font-size="32">10</text>
<text x="1365.9" y="22.7" text-anchor="end" font-size="32">15</text>
<rect x="1736.7" y="20.2" width="133" height="192" fill="#fff" stroke="#666" stroke-width="1.1"/>
<circle cx="1773" cy="46.05" r="11" fill="#ff0000"/>
<text x="1804.6" y="61.85" font-size="32">Ar<tspan dy="-15.6" font-size="24.8">4+</tspan></text>
<circle cx="1773" cy="92.82" r="10.6" fill="#d6e6d9" stroke="#00ff00" stroke-width="1"/>
<text x="1804.6" y="108.62" font-size="32">Ar<tspan dy="-15.6" font-size="24.8">3+</tspan></text>
<circle cx="1773" cy="139.59" r="11" fill="#000"/>
<text x="1804.6" y="155.39" font-size="32">Ar<tspan dy="-15.6" font-size="24.8">2+</tspan></text>
<circle cx="1773" cy="186.36" r="11" fill="#0000ff"/>
<text x="1804.6" y="202.16" font-size="32">Ar<tspan dy="-15.6" font-size="24.8">+</tspan></text>
<text x="260.3" y="64.2" font-size="35.8" font-weight="bold">(a)</text>
<text x="913.7" y="63.9" font-size="35.8" font-weight="bold">(b)</text>
<text x="1467.5" y="58.8" font-size="35.8" font-weight="bold">(c)</text>
<text transform="translate(168.03,471.9) scale(0.9792,1)" font-size="32">Gas density (<tspan font-size="35" dy="3" dx="-1.3">&#215;</tspan><tspan dy="-3" dx="-0.45"> 10</tspan><tspan dy="-15.8" font-size="24.8">14</tspan><tspan dy="15.8"> cm</tspan><tspan dy="-15.8" font-size="24.8">&#8722;3</tspan><tspan dy="15.8">)</tspan></text>
<text transform="translate(805.93,471.9) scale(0.9792,1)" font-size="32">Gas density (<tspan font-size="35" dy="3" dx="-1.3">&#215;</tspan><tspan dy="-3" dx="-0.45"> 10</tspan><tspan dy="-15.8" font-size="24.8">14</tspan><tspan dy="15.8"> cm</tspan><tspan dy="-15.8" font-size="24.8">&#8722;3</tspan><tspan dy="15.8">)</tspan></text>
<text transform="translate(1576.94,460.9) scale(0.971,1)" font-size="32"><tspan font-style="italic">d</tspan> (mm)</text>
<text transform="translate(22.8,397.55) rotate(-90) scale(0.9824,1)" font-size="32">Max. ion kinetic energy (eV)</text>
<text transform="translate(661.3,397.65) rotate(-90) scale(0.9824,1)" font-size="32">Max. ion kinetic energy (eV)</text>
<text transform="translate(1314.2,308.7) rotate(-90) scale(0.965,1)" font-size="32"><tspan font-style="italic">n</tspan> (&#215; 10<tspan dy="-15.8" font-size="24.8">13</tspan><tspan dy="15.8"> cm</tspan><tspan dy="-15.8" font-size="24.8">&#8722;3</tspan><tspan dy="15.8">)</tspan></text>
</svg>
</body></html>
